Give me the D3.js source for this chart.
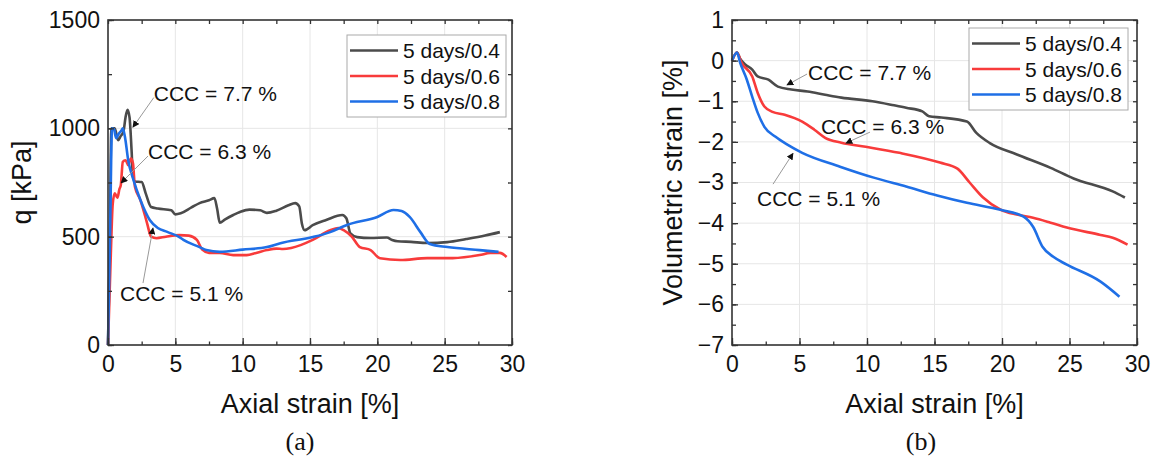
<!DOCTYPE html>
<html>
<head>
<meta charset="utf-8">
<script src="https://cdn.jsdelivr.net/npm/d3@7"></script>
<style>
    body { margin: 0; background: #fff; }
    svg text { font-family: "Liberation Sans", Arial, sans-serif; fill: #111; }
    .caption { font-family: "Liberation Serif", "Times New Roman", serif; }
</style>
</head>
<body>
<div id="chart"></div>
<script>
// ---- data ----
const seriesNames = ["5 days/0.4", "5 days/0.6", "5 days/0.8"];
const strainTicks = [0, 5, 10, 15, 20, 25, 30];
const qTicks = [0, 500, 1000, 1500];
const volTicks = [1, 0, -1, -2, -3, -4, -5, -6, -7];

// deviator stress q [kPa] vs axial strain [%]
const q04 = [[0,0],[0.12,400],[0.25,1000],[0.5,1000],[0.75,945],[0.95,965],[1.15,985],[1.3,1050],[1.45,1085],[1.6,1050],
    [1.75,900],[1.85,780],[2.0,755],[2.5,752],[2.8,700],[3.2,637],[3.7,630],[4.7,622],[5.0,603],[5.4,608],[6.2,635],
    [6.8,655],[7.5,668],[7.9,678],[8.1,630],[8.3,565],[8.7,580],[9.3,600],[9.8,614],[10.5,625],[11.3,622],[11.8,610],
    [12.5,620],[13.4,645],[13.9,655],[14.2,640],[14.4,560],[14.6,530],[15.2,553],[16.2,577],[17.4,600],[17.7,585],
    [18.0,515],[18.5,498],[19.5,494],[20.7,496],[21.1,485],[21.5,479],[22.5,476],[23.7,471],[25.2,475],[26.6,489],
    [28,505],[29.1,521]];
const q06 = [[0,0],[0.2,400],[0.35,650],[0.5,700],[0.7,680],[0.85,720],[0.95,738],[1.1,845],[1.3,853],[1.5,830],
    [1.7,860],[1.85,840],[2.0,730],[2.4,670],[2.9,563],[3.2,500],[3.6,493],[4.3,500],[5.3,507],[6.0,505],[6.6,485],
    [7.0,440],[7.5,425],[8.3,425],[9.3,415],[10.3,415],[11.0,425],[11.8,438],[12.5,445],[13.0,443],[13.6,448],
    [14.3,461],[15.2,485],[16.5,530],[17.1,540],[17.5,530],[18.1,500],[18.7,452],[19.5,438],[20.2,400],[21.7,392],
    [23.7,401],[25.6,401],[27.6,415],[28.4,425],[29.1,425],[29.6,406]];
const q08 = [[0,0],[0.15,500],[0.3,1000],[0.45,995],[0.6,955],[0.8,975],[1.0,990],[1.1,1000],[1.26,960],[1.5,853],
    [1.9,760],[2.4,670],[3.1,577],[3.7,540],[4.4,522],[5.3,498],[5.6,485],[6.8,452],[7.3,438],[8.3,430],[10,440],
    [11.8,452],[12.8,470],[15.2,498],[16.5,521],[17.7,553],[20.0,591],[21.2,623],[21.8,618],[22.4,591],[23.2,521],
    [23.9,466],[25.2,452],[27.6,438],[29.0,430]];

// volumetric strain [%] vs axial strain [%]
const vol04 = [[0,0],[0.37,0.2],[0.6,0.05],[1.0,-0.1],[1.5,-0.22],[1.9,-0.39],[2.7,-0.47],[3.4,-0.64],[4.4,-0.71],
    [5.6,-0.76],[6.9,-0.84],[8.1,-0.91],[10.4,-1.0],[12.0,-1.1],[12.9,-1.16],[14.1,-1.25],[14.6,-1.37],[15.5,-1.4],
    [17.4,-1.5],[18.1,-1.78],[19.1,-2.03],[21.1,-2.31],[23.6,-2.64],[25.3,-2.9],[28.2,-3.22],[29.1,-3.37]];
const vol06 = [[0,0],[0.37,0.2],[0.7,-0.05],[1.5,-0.39],[1.9,-0.79],[2.4,-1.13],[3.0,-1.26],[3.9,-1.33],[5.2,-1.5],
    [6.1,-1.7],[6.9,-1.9],[8.1,-2.02],[9.9,-2.12],[12.4,-2.27],[15.4,-2.51],[16.7,-2.66],[17.6,-3.0],[18.6,-3.37],
    [19.9,-3.67],[21.1,-3.79],[22.3,-3.87],[23.6,-3.99],[24.8,-4.11],[27.3,-4.29],[28.2,-4.36],[29.3,-4.53]];
const vol08 = [[0,0],[0.37,0.2],[0.6,-0.05],[1.1,-0.47],[1.5,-0.89],[1.9,-1.28],[2.4,-1.63],[3.2,-1.87],[4.1,-2.07],
    [5.2,-2.27],[8.0,-2.61],[10.5,-2.88],[12.9,-3.1],[15.2,-3.32],[17.4,-3.5],[19.9,-3.67],[21.6,-3.84],[22.3,-4.09],
    [23.0,-4.58],[23.8,-4.83],[24.8,-5.02],[27.3,-5.44],[28.7,-5.81]];

const colors = ["#4b4b4b", "#f83b3b", "#1f6fe6"];

/* * * * * * * * * * * * * *
*       StrainPanel        *
* * * * * * * * * * * * * */

class StrainPanel {
    constructor(svg, cfg) {
        this.svg = svg;
        this.cfg = cfg;
        this.initVis();
    }

    initVis() {
        let vis = this;
        let c = vis.cfg;

        vis.x = d3.scaleLinear().domain([0, 30]).range([c.left, c.right]);
        vis.y = d3.scaleLinear().domain(c.yDomain).range([c.bottom, c.top]);

        vis.g = vis.svg.append("g");

        // gridlines
        vis.g.append("g").selectAll("line")
            .data(strainTicks.slice(1, -1))
            .enter().append("line")
            .attr("x1", d => vis.x(d)).attr("x2", d => vis.x(d))
            .attr("y1", c.top).attr("y2", c.bottom)
            .attr("stroke", "#e6e6e6");
        vis.g.append("g").selectAll("line")
            .data(c.yTicks.filter(d => d !== c.yDomain[0] && d !== c.yDomain[1]))
            .enter().append("line")
            .attr("x1", c.left).attr("x2", c.right)
            .attr("y1", d => vis.y(d)).attr("y2", d => vis.y(d))
            .attr("stroke", "#e6e6e6");

        // curves
        let line = d3.line()
            .x(d => vis.x(d[0]))
            .y(d => vis.y(d[1]))
            .curve(d3.curveMonotoneX);

        vis.g.selectAll(".curve")
            .data(c.series)
            .enter().append("path")
            .attr("class", "curve")
            .attr("d", line)
            .attr("fill", "none")
            .attr("stroke", (d, i) => colors[i])
            .attr("stroke-width", 2.6)
            .attr("stroke-linejoin", "round");

        // axes (ticks inside)
        let xMinor = d3.range(0, 30.01, 2.5);
        let yMinor = d3.range(c.yDomain[0], c.yDomain[1] + 1e-6, c.yMinorStep);

        vis.g.append("g")
            .attr("transform", `translate(0,${c.bottom})`)
            .call(d3.axisBottom(vis.x).tickValues(xMinor).tickSize(-3.5).tickFormat(""));
        vis.g.append("g")
            .attr("transform", `translate(0,${c.bottom})`)
            .call(d3.axisBottom(vis.x).tickValues(strainTicks).tickSize(-7).tickPadding(11).tickFormat(d3.format("d")))
            .selectAll("text").style("font-size", "23px");

        vis.g.append("g")
            .attr("transform", `translate(${c.left},0)`)
            .call(d3.axisLeft(vis.y).tickValues(yMinor).tickSize(-4).tickFormat(""));
        vis.g.append("g")
            .attr("transform", `translate(${c.left},0)`)
            .call(d3.axisLeft(vis.y).tickValues(c.yTicks).tickSize(-6).tickPadding(8).tickFormat(d3.format("d")))
            .selectAll("text").style("font-size", "23px");

        vis.g.append("g")
            .attr("transform", `translate(0,${c.top})`)
            .call(d3.axisTop(vis.x).tickValues(xMinor).tickSize(-4).tickFormat(""));
        vis.g.append("g")
            .attr("transform", `translate(${c.right},0)`)
            .call(d3.axisRight(vis.y).tickValues(yMinor).tickSize(-4).tickFormat(""));

        vis.g.selectAll(".domain").remove();
        vis.g.selectAll(".tick line").attr("stroke", "#333").attr("stroke-width", 1.3);

        vis.g.append("rect")
            .attr("x", c.left).attr("y", c.top)
            .attr("width", c.right - c.left).attr("height", c.bottom - c.top)
            .attr("fill", "none")
            .attr("stroke", "#333")
            .attr("stroke-width", 1.6);

        // axis titles
        vis.g.append("text")
            .attr("x", (c.left + c.right) / 2)
            .attr("y", 413)
            .attr("text-anchor", "middle")
            .style("font-size", "27px")
            .text("Axial strain [%]");
        vis.g.append("text")
            .attr("transform", `translate(${c.yTitleX},${(c.top + c.bottom) / 2}) rotate(-90)`)
            .attr("text-anchor", "middle")
            .style("font-size", "27px")
            .text(c.yTitle);
        vis.g.append("text")
            .attr("class", "caption")
            .attr("x", c.captionX)
            .attr("y", 450)
            .attr("text-anchor", "middle")
            .style("font-size", "26px")
            .text(c.caption);

        // annotations
        c.notes.forEach(n => {
            vis.g.append("line")
                .attr("x1", vis.x(n.from[0])).attr("y1", vis.y(n.from[1]))
                .attr("x2", vis.x(n.tip[0])).attr("y2", vis.y(n.tip[1]))
                .attr("stroke", "#999")
                .attr("stroke-width", 1)
                .attr("marker-end", "url(#arrow)");
            vis.g.append("text")
                .attr("x", vis.x(n.at[0])).attr("y", vis.y(n.at[1]))
                .style("font-size", "21px")
                .text(n.label);
        });

        // legend
        let lg = vis.g.append("g").attr("transform", `translate(${c.legend[0]},${c.legend[1]})`);
        lg.append("rect")
            .attr("width", 159).attr("height", 82)
            .attr("fill", "#fff")
            .attr("stroke", "#aaa");
        let row = lg.selectAll(".row")
            .data(seriesNames)
            .enter().append("g")
            .attr("transform", (d, i) => `translate(0,${15.5 + i * 25.5})`);
        row.append("line")
            .attr("x1", 3).attr("x2", 51)
            .attr("stroke", (d, i) => colors[i])
            .attr("stroke-width", 2.6);
        row.append("text")
            .attr("x", 56).attr("y", 7.5)
            .style("font-size", "21px")
            .text(d => d);
    }
}

let svg = d3.select("#chart").append("svg")
    .attr("width", 1154)
    .attr("height", 459);

svg.append("defs").append("marker")
    .attr("id", "arrow")
    .attr("viewBox", "0 0 10 10")
    .attr("refX", 9).attr("refY", 5)
    .attr("markerWidth", 7).attr("markerHeight", 7)
    .attr("markerUnits", "userSpaceOnUse")
    .attr("orient", "auto")
    .append("path")
    .attr("d", "M0,0L10,5L0,10z")
    .attr("fill", "#111");

new StrainPanel(svg, {
    left: 108, right: 512, top: 20, bottom: 345,
    yDomain: [0, 1500], yTicks: qTicks, yMinorStep: 250,
    series: [q04, q06, q08],
    yTitle: "q [kPa]", yTitleX: 31,
    caption: "(a)", captionX: 300,
    legend: [347, 35],
    notes: [
        {label: "CCC = 7.7 %", at: [3.4, 1125], from: [3.4, 1142], tip: [1.85, 1005]},
        {label: "CCC = 6.3 %", at: [2.97, 858], from: [2.97, 872], tip: [0.97, 748]},
        {label: "CCC = 5.1 %", at: [0.89, 203], from: [2.6, 286], tip: [3.34, 540]}
    ]
});

new StrainPanel(svg, {
    left: 732, right: 1137, top: 20, bottom: 345,
    yDomain: [-7, 1], yTicks: volTicks, yMinorStep: 0.5,
    series: [vol04, vol06, vol08],
    yTitle: "Volumetric strain [%]", yTitleX: 682,
    caption: "(b)", captionX: 921,
    legend: [969, 28],
    notes: [
        {label: "CCC = 7.7 %", at: [5.63, -0.48], from: [5.56, -0.33], tip: [4.07, -0.6]},
        {label: "CCC = 6.3 %", at: [6.59, -1.81], from: [10.22, -1.76], tip: [8.44, -2.03]},
        {label: "CCC = 5.1 %", at: [1.85, -3.58], from: [3.04, -3.04], tip: [4.52, -2.28]}
    ]
});
</script>
</body>
</html>
